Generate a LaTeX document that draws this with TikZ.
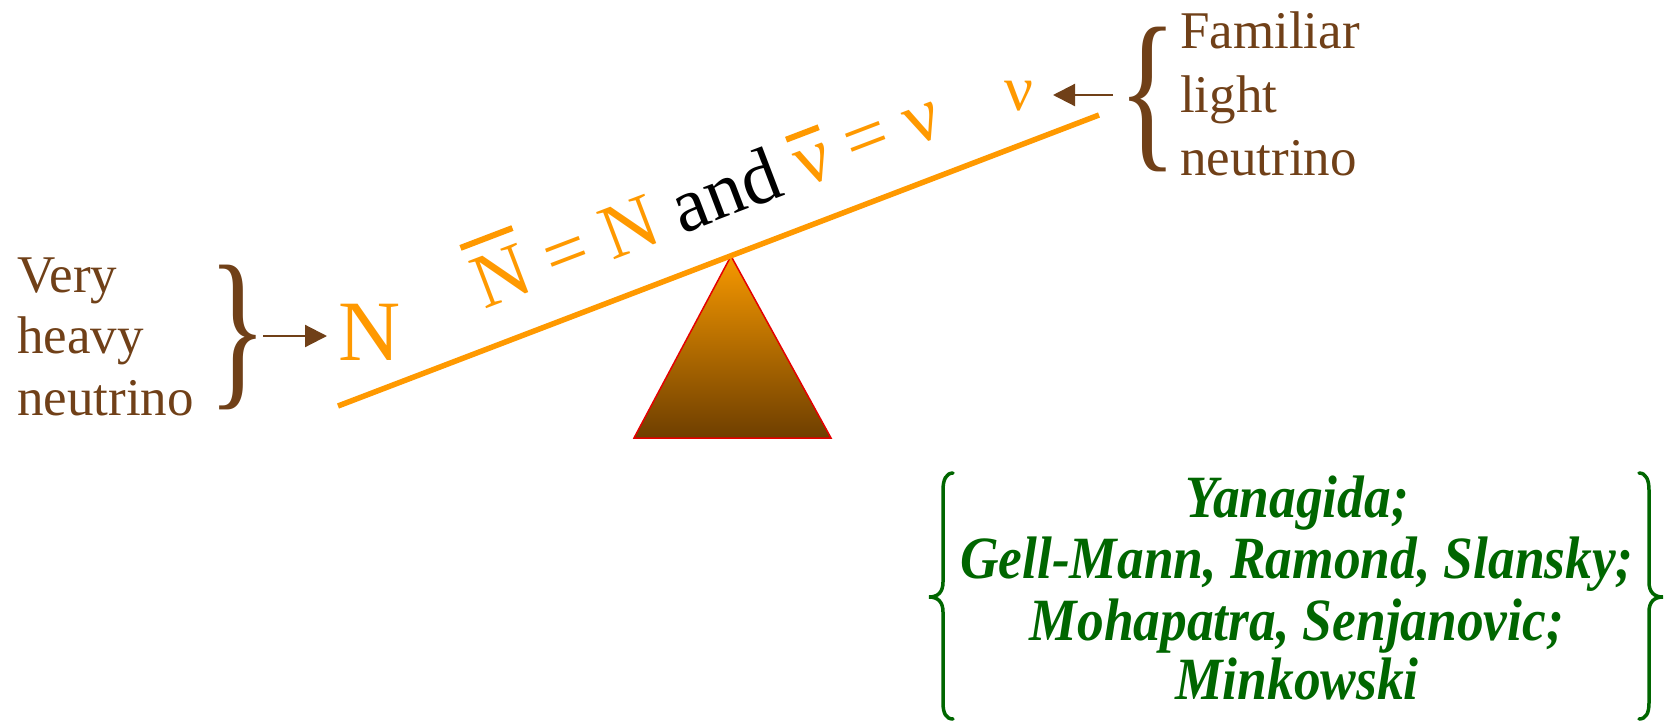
\documentclass[tikz,border=0pt]{standalone}
\usepackage{fontspec}
\setmainfont{LiberationSerif}[Extension=.ttf,UprightFont=*-Regular,BoldFont=*-Bold,ItalicFont=*-Italic,BoldItalicFont=*-BoldItalic]
\usetikzlibrary{arrows.meta}
\definecolor{brn}{RGB}{112,64,24}
\definecolor{org}{RGB}{255,153,0}
\definecolor{grn}{RGB}{0,102,0}
\definecolor{tritop}{RGB}{247,153,0}
\definecolor{tribot}{RGB}{110,62,0}
\newcommand\ovb[1]{\vbox{\hrule height 6pt\kern 13pt\hbox{#1}}}
\newcommand\cond[1]{\scalebox{0.89}[1]{#1}}
\begin{document}
\begin{tikzpicture}[x=1pt,y=-1pt,
  brtxt/.style={text=brn,font=\fontsize{53}{62}\selectfont,inner sep=0,anchor=base west},
  gtxt/.style={text=grn,font=\fontsize{60}{61}\selectfont\bfseries\itshape,inner sep=0,anchor=base},
  arr/.style={draw=brn,line width=2.2pt,-{Triangle[length=22pt,width=22pt]}},
  gbrace/.style={draw=grn,line width=3.5pt,line cap=round}]
\useasboundingbox (0,0) rectangle (1674,721);
% seesaw
\coordinate (sl) at (338,406);
\coordinate (sr) at (1099,115);
\coordinate (apex) at (731,256);
\coordinate (bl) at (634,438);
\coordinate (br) at (831,438);
\shadedraw[top color=tritop,bottom color=tribot,draw=red!90!black,line width=1.5pt] (apex) -- (bl) -- (br) -- cycle;
\draw[org,line width=5.5pt] (sl) -- (sr);
% rotated equation
\node[rotate=20.9,anchor=base west,inner sep=0,font=\fontsize{77}{77}\selectfont] (eq) at (484,310)
  {\textcolor{org}{\ovb{N} = N} and \textcolor{org}{\ovb{ν} = ν}};
% big N and nu
\node[text=org,font=\fontsize{86}{86}\selectfont,inner sep=0,anchor=base west] (N) at (338,360) {N};
\node[text=org,font=\fontsize{64}{64}\selectfont,inner sep=0,anchor=base west] (nu) at (1004,110) {ν};
% brown braces
\node[text=brn,inner sep=0] (lbr) at (238,337) {\scalebox{0.7}[1]{\fontsize{175}{175}\selectfont\}}};
\node[text=brn,inner sep=0] (rbr) at (1148,99) {\scalebox{0.7}[1]{\fontsize{175}{175}\selectfont\{}};
% brown texts
\node[brtxt] (v1) at (17,292) {Very};
\node[brtxt] (v2) at (17,353) {heavy};
\node[brtxt] (v3) at (17,415) {neutrino};
\node[brtxt] (f1) at (1180,48) {Familiar};
\node[brtxt] (f2) at (1180,112) {light};
\node[brtxt] (f3) at (1180,175) {neutrino};
% arrows
\coordinate (la1) at (263,336);
\coordinate (la2) at (327,336);
\draw[arr] (la1) -- (la2);
\coordinate (ra1) at (1113,95);
\coordinate (ra2) at (1053,95);
\draw[arr] (ra1) -- (ra2);
% green references
\node[gtxt] (g1) at (1297,517) {\cond{Yanagida;}};
\node[gtxt] (g2) at (1297,578) {\cond{Gell-Mann, Ramond, Slansky;}};
\node[gtxt] (g3) at (1297,640) {\cond{Mohapatra, Senjanovic;}};
\node[gtxt] (g4) at (1297,699) {\cond{Minkowski}};
\draw[gbrace] (953,473) .. controls (946,473) and (943,480) .. (943,490) -- (943,582)
  .. controls (943,592) and (938,597) .. (929,597)
  .. controls (938,597) and (943,602) .. (943,612) -- (943,703)
  .. controls (943,713) and (946,719) .. (953,719);
\draw[gbrace] (1639,473) .. controls (1646,473) and (1649,480) .. (1649,490) -- (1649,582)
  .. controls (1649,592) and (1654,597) .. (1663,597)
  .. controls (1654,597) and (1649,602) .. (1649,612) -- (1649,703)
  .. controls (1649,713) and (1646,719) .. (1639,719);
\end{tikzpicture}
\end{document}
